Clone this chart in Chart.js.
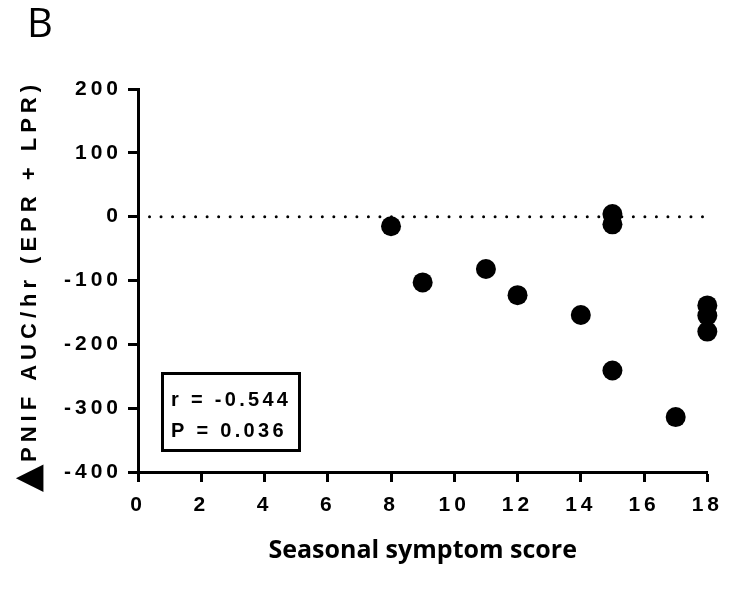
<!DOCTYPE html>
<html><head><meta charset="utf-8">
<script src="https://cdn.jsdelivr.net/npm/chart.js@4.4.1/dist/chart.umd.min.js"></script>
<style>html,body{margin:0;padding:0;background:#fff}canvas{display:block}</style>
</head><body>
<canvas id="c" width="730" height="591"></canvas>
<script>
// ---- data ----
const symptomScore = [8, 9, 11, 12, 14, 15, 15, 15, 17, 18, 18, 18];
const deltaPnif    = [-15, -103, -82, -123, -154, 4, -12, -241, -314, -139, -155, -180];
const zeroLineX = [0, 18];
const zeroLineY = [0, 0];
const xTicks = [0, 2, 4, 6, 8, 10, 12, 14, 16, 18];
const yTicks = [-400, -300, -200, -100, 0, 100, 200];
const statText = ['r = -0.544', 'P = 0.036'];
const panelLabel = 'B';
const xTitle = 'Seasonal symptom score';
const yTitleMark = '\u25B2';
const yTitle = 'PNIF AUC/hr (EPR + LPR)';

const points = symptomScore.map((x, i) => ({x: x, y: deltaPnif[i]}));
const zeroLine = zeroLineX.map((x, i) => ({x: x, y: zeroLineY[i]}));

const decor = {
  id: 'decor',
  beforeDraw(chart) { chart.ctx.letterSpacing = '4px'; },
  beforeDatasetsDraw(chart) { chart.ctx.letterSpacing = '0px'; },
  afterDraw(chart) {
    const ctx = chart.ctx, a = chart.chartArea;
    ctx.save();
    ctx.fillStyle = '#000';
    ctx.strokeStyle = '#000';
    // panel label
    ctx.letterSpacing = '0px';
    ctx.font = '40px "Open Sans"';
    ctx.textAlign = 'left'; ctx.textBaseline = 'alphabetic';
    ctx.fillText(panelLabel, 27, 37);
    // x title
    ctx.font = 'bold 25px "Open Sans"';
    ctx.textAlign = 'center';
    ctx.fillText(xTitle, (a.left + a.right) / 2, 558);
    // y title
    ctx.save();
    ctx.translate(36, 462); ctx.rotate(-Math.PI / 2);
    ctx.font = 'bold 22px "Liberation Sans"';
    ctx.letterSpacing = '5px';
    ctx.textAlign = 'left';
    ctx.fillText(yTitle, 0, 0);
    ctx.restore();
    ctx.save();
    ctx.translate(39, 492); ctx.rotate(-Math.PI / 2);
    ctx.font = '36px "DejaVu Sans"';
    ctx.letterSpacing = '0px';
    ctx.textAlign = 'left';
    ctx.fillText(yTitleMark, 0, 0);
    ctx.restore();
    // stats box
    ctx.lineWidth = 3;
    ctx.strokeRect(a.left + 24.5, a.top + 284.5, 137, 77);
    ctx.font = 'bold 20px "Liberation Sans"';
    ctx.letterSpacing = '3.3px';
    ctx.textAlign = 'left'; ctx.textBaseline = 'middle';
    ctx.fillText(statText[0], a.left + 33, a.top + 311);
    ctx.fillText(statText[1], a.left + 33, a.top + 342);
    ctx.restore();
  }
};

Chart.defaults.font.family = '"Liberation Sans"';
Chart.defaults.color = '#000';

new Chart(document.getElementById('c'), {
  type: 'scatter',
  data: {
    datasets: [
      {
        data: points,
        backgroundColor: '#000',
        borderWidth: 0,
        pointRadius: 10,
        pointHoverRadius: 10,
        order: 0
      },
      {
        type: 'line',
        data: zeroLine,
        borderColor: '#000',
        borderWidth: 3,
        borderDash: [0, 11.52],
        borderCapStyle: 'round',
        pointRadius: 0,
        fill: false,
        order: 1
      }
    ]
  },
  options: {
    responsive: false,
    animation: false,
    devicePixelRatio: 1,
    clip: false,
    layout: {padding: {top: 89, right: 16, left: 0, bottom: 0}},
    plugins: {legend: {display: false}, tooltip: {enabled: false}},
    scales: {
      x: {
        type: 'linear', min: 0, max: 18,
        afterBuildTicks(s) { s.ticks = xTicks.map(v => ({value: v})); },
        afterFit(s) { s.height = 119; },
        border: {display: true, color: '#000', width: 3},
        grid: {display: true, drawOnChartArea: false, drawTicks: true, tickLength: 10, tickWidth: 3, tickColor: '#000', color: '#000'},
        ticks: {font: {size: 21, weight: 'bold'}, padding: 11, color: '#000', maxRotation: 0, autoSkip: false}
      },
      y: {
        type: 'linear', min: -400, max: 200,
        afterBuildTicks(s) { s.ticks = yTicks.map(v => ({value: v})); },
        afterFit(s) { s.width = 138; },
        border: {display: true, color: '#000', width: 3},
        grid: {display: true, drawOnChartArea: false, drawTicks: true, tickLength: 10, tickWidth: 3, tickColor: '#000', color: '#000'},
        ticks: {font: {size: 21, weight: 'bold'}, padding: 6, color: '#000', autoSkip: false}
      }
    }
  },
  plugins: [decor]
});
</script>
</body></html>
